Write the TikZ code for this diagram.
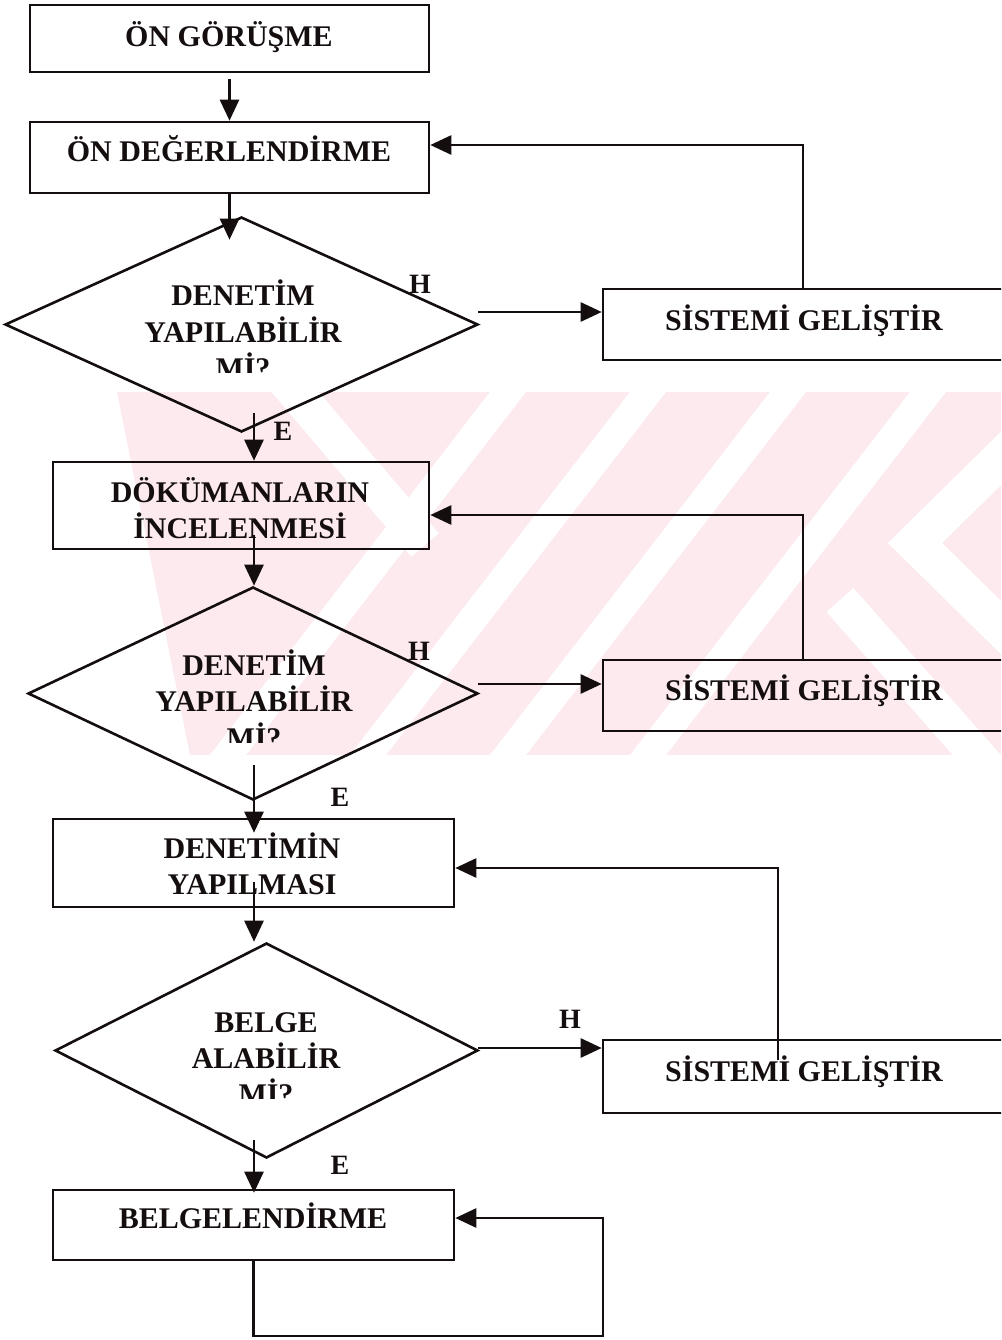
\documentclass[tikz,border=0pt]{standalone}
\usepackage{fontspec}
\setmainfont{Liberation Serif}
\usetikzlibrary{arrows.meta,shapes.geometric}
\definecolor{ink}{RGB}{20,14,14}
\definecolor{wmpink}{RGB}{252,234,238}
\tikzset{
  flow/.style={line width=2.6pt, draw=ink},
  arr/.style={flow, -{Triangle[length=21pt,width=19pt]}},
  box/.style={draw=ink, line width=2.6pt, rectangle, inner sep=0pt},
  decision/.style={draw=ink, line width=2.6pt, diamond, inner sep=0pt},
  lbl/.style={anchor=base, inner sep=0pt, text=ink,
    font=\fontsize{30}{30}\selectfont\bfseries},
  yn/.style={anchor=base, inner sep=0pt, text=ink,
    font=\fontsize{28}{28}\selectfont\bfseries},
}
\begin{document}
\begin{tikzpicture}[x=1pt,y=-1pt]
\useasboundingbox (0,0) rectangle (1001,1340);
\clip (0,0) rectangle (1001,1340);

% faint background emblem
\begin{scope}
  \clip (117,392) -- (1001,392) -- (1001,755) -- (190,755) -- cycle;
  \fill[wmpink] (0,392) rectangle (1001,755);
  \foreach \t in {490,630,770,910}
    \fill[white] (\t,392) -- (\t+36,392) -- (\t+36-280,755) -- (\t-280,755) -- cycle;
  \draw[white, line width=36pt] (285,380) -- (425,545);
  \draw[white, line width=38pt] (1040,420) -- (915,543) -- (1040,666);
  \draw[white, line width=36pt] (840,600) -- (990,770);
\end{scope}

% process boxes
\node[box, minimum width=399pt, minimum height=67pt] (b1) at (229.5,38.5) {};
\node[box, minimum width=399pt, minimum height=71pt] (b2) at (229.5,157.5) {};
\node[box, minimum width=376pt, minimum height=87pt] (b3) at (241,505.5) {};
\node[box, minimum width=401pt, minimum height=88pt] (b4) at (253.5,863) {};
\node[box, minimum width=401pt, minimum height=70pt] (b5) at (253.5,1225) {};

% decisions
\node[decision, minimum width=473pt, minimum height=215pt] (d1) at (241.5,324.5) {};
\node[decision, minimum width=450pt, minimum height=213pt] (d2) at (253,693.5) {};
\node[decision, minimum width=423pt, minimum height=215pt] (d3) at (266.5,1050.5) {};

% improvement boxes (running off the right edge)
\node[box, minimum width=420pt, minimum height=71pt] (sg1) at (813,324.5) {};
\node[box, minimum width=420pt, minimum height=71pt] (sg2) at (813,695.5) {};
\node[box, minimum width=420pt, minimum height=73pt] (sg3) at (813,1076.5) {};

% texts
\node[lbl] (t1) at (229,47) {ÖN GÖRÜŞME};
\node[lbl] (t2) at (229,162) {ÖN DEĞERLENDİRME};
\node[lbl] (t3a) at (240,502) {DÖKÜMANLARIN};
\node[lbl] (t3b) at (240,538) {İNCELENMESİ};
\node[lbl] (t4a) at (252,858) {DENETİMİN};
\node[lbl] (t4b) at (252,894) {YAPILMASI};
\node[lbl] (t5) at (253,1228) {BELGELENDİRME};

\node[lbl] (q1a) at (243,305) {DENETİM};
\node[lbl] (q1b) at (243,342) {YAPILABİLİR};
\node[lbl] (q2a) at (254,675) {DENETİM};
\node[lbl] (q2b) at (254,711) {YAPILABİLİR};
\node[lbl] (q3a) at (266,1032) {BELGE};
\node[lbl] (q3b) at (266,1068) {ALABİLİR};
\begin{scope}
  \clip (0,0) rectangle (1001,372);
  \node[lbl] (q1c) at (243,378) {Mİ?};
\end{scope}
\begin{scope}
  \clip (0,0) rectangle (1001,742);
  \node[lbl] (q2c) at (254,748) {Mİ?};
\end{scope}
\begin{scope}
  \clip (0,0) rectangle (1001,1098);
  \node[lbl] (q3c) at (266,1104) {Mİ?};
\end{scope}

\node[lbl] (s1) at (804,330) {SİSTEMİ GELİŞTİR};
\node[lbl] (s2) at (804,700) {SİSTEMİ GELİŞTİR};
\node[lbl] (s3) at (804,1081) {SİSTEMİ GELİŞTİR};

% answer labels
\node[yn] (h1) at (420,293) {H};
\node[yn] (h2) at (419,660) {H};
\node[yn] (h3) at (570,1028) {H};
\node[yn] (e1) at (283,440) {E};
\node[yn] (e2) at (340,806) {E};
\node[yn] (e3) at (340,1174) {E};

% connector anchor points
\coordinate (h1s) at (478,312);
\coordinate (h2s) at (478,684);
\coordinate (h3s) at (478,1048);
\coordinate (f1) at (803,145);
\coordinate (f2) at (803,515);
\coordinate (f3) at (778,868);
\coordinate (f3s) at (778,1060);
\coordinate (e1s) at (254,413);
\coordinate (e2s) at (254,765);
\coordinate (e3s) at (254,1140);
\coordinate (a3s) at (254,535);
\coordinate (a4s) at (254,882);
\coordinate (lp) at (603,1336);
\coordinate (lp2) at (603,1218);

% main flow
\draw[arr] ([yshift=-6pt]b1.south) -- (b2.north);
\draw[arr] (b2.south) -- ([yshift=-24pt]b2.south |- d1.north);
\draw[arr] (e1s) -- (e1s |- b3.north);
\draw[arr] (a3s) -- (a3s |- d2.north);
\draw[arr] (e2s) -- ([yshift=-15pt]e2s |- b4.north);
\draw[arr] (a4s) -- (a4s |- d3.north);
\draw[arr] (e3s) -- ([yshift=-4pt]e3s |- b5.north);

% "no" branches
\draw[arr] (h1s) -- (h1s -| sg1.west);
\draw[arr] (h2s) -- (h2s -| sg2.west);
\draw[arr] (h3s) -- (h3s -| sg3.west);

% feedback loops
\draw[arr] (f1 |- sg1.north) -- (f1) -- (f1 -| b2.east);
\draw[arr] (f2 |- sg2.north) -- (f2) -- (f2 -| b3.east);
\draw[arr] (f3s) -- (f3) -- (f3 -| b4.east);
\draw[arr] (b5.south) -- (b5.south |- lp) -- (lp) -- (lp2) -- (lp2 -| b5.east);
\end{tikzpicture}
\end{document}
